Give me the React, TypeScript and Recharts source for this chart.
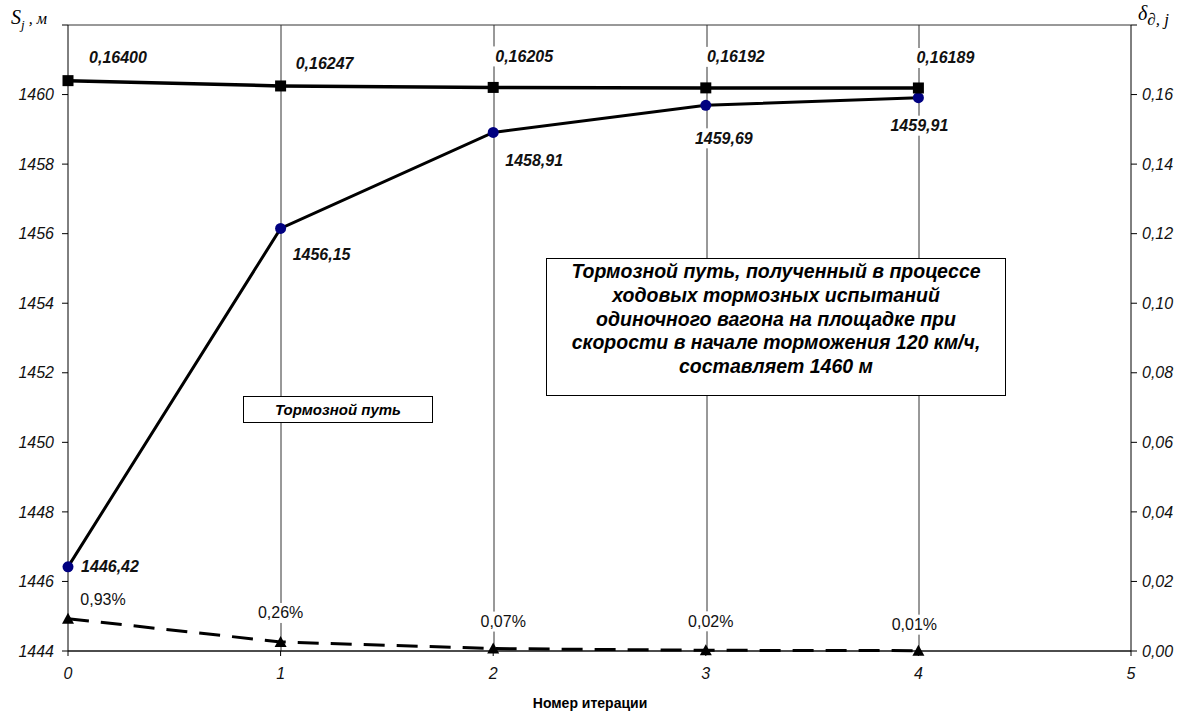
import React from "react";
import {
  LineChart,
  Line,
  XAxis,
  YAxis,
  CartesianGrid,
  LabelList,
} from "recharts";

// iterations and measured values
const iterations = [0, 1, 2, 3, 4];
const brakingPath = [1446.42, 1456.15, 1458.91, 1459.69, 1459.91];
const deltaD = [0.164, 0.16247, 0.16205, 0.16192, 0.16189];
const relChange = [0.0093, 0.0026, 0.0007, 0.0002, 0.0001];

const xTicks = [0, 1, 2, 3, 4, 5];
const leftTicks = [1444, 1446, 1448, 1450, 1452, 1454, 1456, 1458, 1460, 1462];
const rightTicks = [0, 0.02, 0.04, 0.06, 0.08, 0.1, 0.12, 0.14, 0.16, 0.18];

// label offsets from the point, px
const sOffsets = [[42, 0], [41, 26], [41, 28], [18, 33], [1, 28]];
const dOffsets = [[50, -23], [44, -22], [31, -31], [30, -31], [27, -30]];
const rOffsets = [[35, -19], [0, -29], [10, -27], [5, -29], [-4, -26]];

const data = iterations.map((x, i) => ({
  x,
  s: brakingPath[i],
  d: deltaD[i],
  r: relChange[i],
}));

const FONT = "'Liberation Sans', Arial, sans-serif";
const comma = (v: number, n: number) => v.toFixed(n).replace(".", ",");

const makeLabel =
  (offsets: number[][], fmt: (v: number) => string, style: any) =>
  (props: any) => {
    const { x, y, value, index } = props;
    const [dx, dy] = offsets[index] || [0, 0];
    const txt = fmt(Number(value));
    const w = txt.length * 9 + 4;
    return (
      <g>
        <rect x={x + dx - w / 2} y={y + dy - 10} width={w} height={20} fill="#fff" />
        <text
          x={x + dx}
          y={y + dy}
          textAnchor="middle"
          dominantBaseline="central"
          fontFamily={FONT}
          fontSize={16}
          fill="#111"
          {...style}
        >
          {txt}
        </text>
      </g>
    );
  };

const circleDot = (props: any) => (
  <circle key={"c" + props.index} cx={props.cx} cy={props.cy} r={5.5} fill="#000080" />
);
const squareDot = (props: any) => (
  <rect key={"q" + props.index} x={props.cx - 5.5} y={props.cy - 5.5} width={11} height={11} fill="#000" />
);
const triDot = (props: any) => (
  <polygon
    key={"t" + props.index}
    points={`${props.cx},${props.cy - 6} ${props.cx - 6},${props.cy + 5} ${props.cx + 6},${props.cy + 5}`}
    fill="#000"
  />
);

const tickStyle = { fontFamily: FONT, fontSize: 16, fontStyle: "italic", fill: "#111" };

const App = () => {
  return (
    <div style={{ position: "absolute", left: 0, top: 0, width: 1180, height: 711, background: "#fff" }}>
      <LineChart
        width={1180}
        height={711}
        data={data}
        margin={{ top: 25, right: 0, left: 0, bottom: 0 }}
      >
        <CartesianGrid stroke="#333" strokeWidth={1} verticalPoints={[281, 494, 707, 919]} />
        <XAxis
          dataKey="x"
          type="number"
          domain={[0, 5]}
          ticks={xTicks}
          height={60}
          stroke="#000"
          tickSize={5}
          tick={tickStyle}
          tickMargin={12}
          tickFormatter={(v) => String(v)}
        />
        <YAxis
          yAxisId="left"
          domain={[1444, 1462]}
          ticks={leftTicks}
          width={68}
          stroke="#000"
          tickSize={6}
          tickMargin={8}
          tick={tickStyle}
          tickFormatter={(v) => (v === 1462 ? "" : String(v))}
        />
        <YAxis
          yAxisId="right"
          orientation="right"
          domain={[0, 0.18]}
          ticks={rightTicks}
          width={49}
          stroke="#000"
          tickSize={6}
          tickMargin={5}
          tick={tickStyle}
          tickFormatter={(v) => (v >= 0.18 ? "" : comma(v, 2))}
        />
        <Line
          yAxisId="left"
          dataKey="s"
          type="linear"
          stroke="#000"
          strokeWidth={3}
          dot={circleDot}
          activeDot={false}
          isAnimationActive={false}
        >
          <LabelList
            dataKey="s"
            content={makeLabel(sOffsets, (v) => comma(v, 2), { fontWeight: "bold", fontStyle: "italic" })}
          />
        </Line>
        <Line
          yAxisId="right"
          dataKey="d"
          type="linear"
          stroke="#000"
          strokeWidth={3.5}
          dot={squareDot}
          activeDot={false}
          isAnimationActive={false}
        >
          <LabelList
            dataKey="d"
            content={makeLabel(dOffsets, (v) => comma(v, 5), { fontWeight: "bold", fontStyle: "italic" })}
          />
        </Line>
        <Line
          yAxisId="right"
          dataKey="r"
          type="linear"
          stroke="#000"
          strokeWidth={3}
          strokeDasharray="21 12"
          dot={triDot}
          activeDot={false}
          isAnimationActive={false}
        >
          <LabelList
            dataKey="r"
            content={makeLabel(rOffsets, (v) => comma(v * 100, 2) + "%", {})}
          />
        </Line>
      </LineChart>

      {/* axis captions */}
      <div style={{ position: "absolute", left: 11, top: 6, fontFamily: "'Liberation Serif', serif", fontStyle: "italic", fontSize: 20 }}>
        S<sub style={{ fontSize: 13 }}>j</sub>
        <span style={{ fontSize: 16 }}> , м</span>
      </div>
      <div style={{ position: "absolute", left: 1138, top: 2, fontFamily: "'Liberation Serif', serif", fontStyle: "italic", fontSize: 20 }}>
        δ<sub style={{ fontSize: 17 }}>∂, j</sub>
      </div>
      <div style={{ position: "absolute", left: 0, width: 1180, top: 695, textAlign: "center", fontFamily: FONT, fontWeight: "bold", fontSize: 14 }}>
        Номер итерации
      </div>

      {/* legend box */}
      <div
        style={{
          position: "absolute",
          left: 243,
          top: 396,
          width: 190,
          height: 27,
          border: "1px solid #000",
          background: "#fff",
          fontFamily: FONT,
          fontWeight: "bold",
          fontStyle: "italic",
          fontSize: 15,
          lineHeight: "25px",
          textAlign: "center",
          boxSizing: "border-box",
        }}
      >
        Тормозной путь
      </div>

      {/* note box */}
      <div
        style={{
          position: "absolute",
          left: 546,
          top: 258,
          width: 460,
          height: 138,
          border: "1px solid #000",
          background: "#fff",
          fontFamily: FONT,
          fontWeight: "bold",
          fontStyle: "italic",
          fontSize: 19.5,
          lineHeight: "23.8px",
          textAlign: "center",
          paddingTop: 1,
          boxSizing: "border-box",
        }}
      >
        Тормозной путь, полученный в процессе
        <br />
        ходовых тормозных испытаний
        <br />
        одиночного вагона на площадке при
        <br />
        скорости в начале торможения 120 км/ч,
        <br />
        составляет 1460 м
      </div>
    </div>
  );
};

export default App;
